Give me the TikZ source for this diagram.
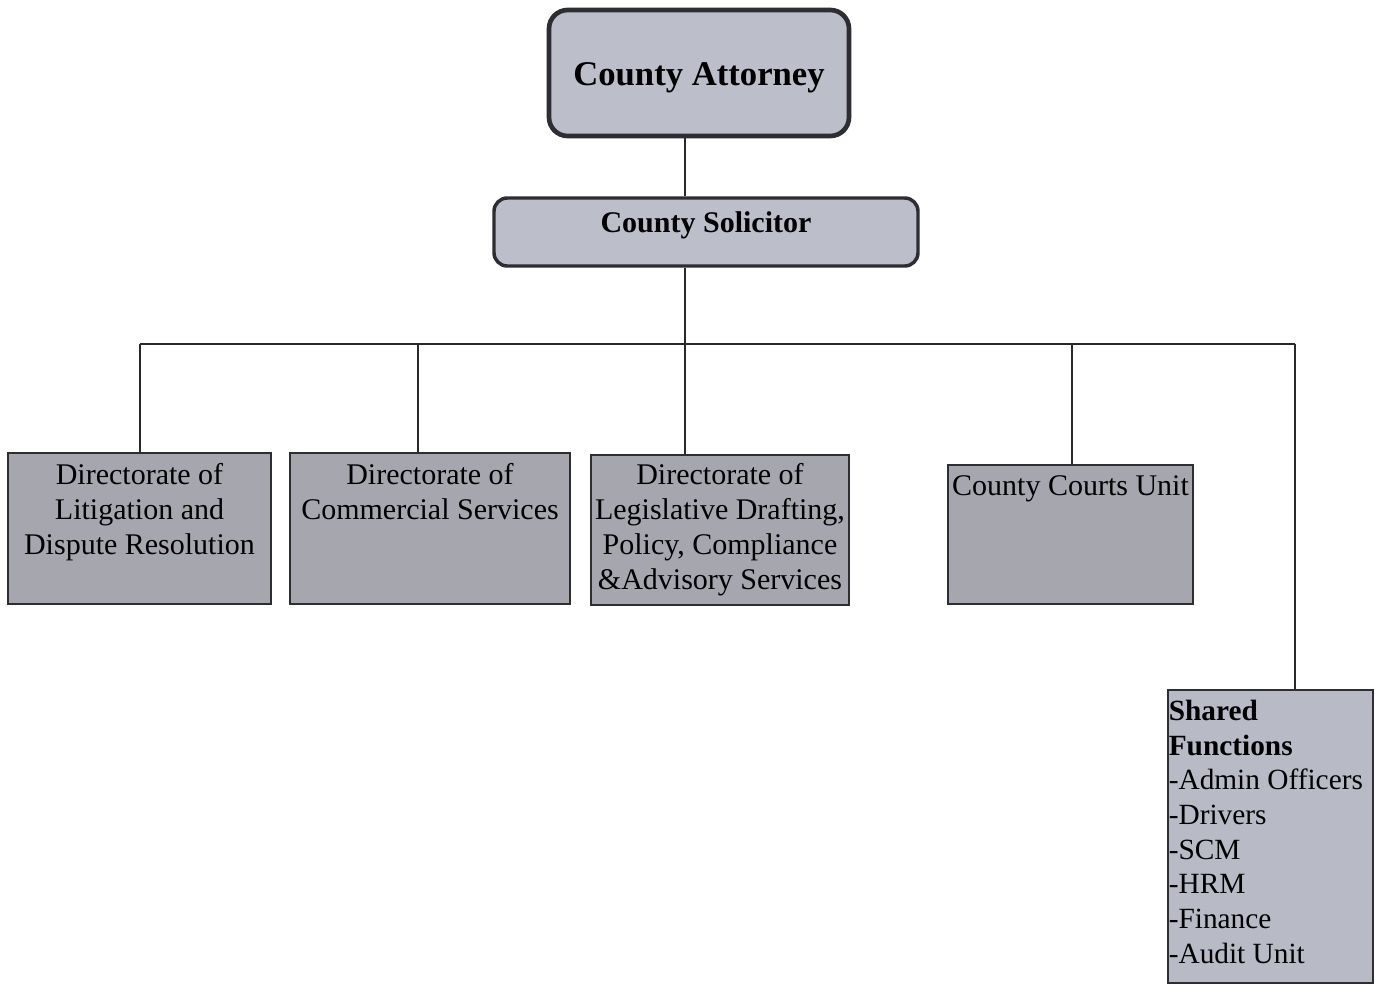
\documentclass[tikz,border=0pt]{standalone}
\usepackage{fontspec}
\setmainfont{Liberation Serif}
\definecolor{borderc}{RGB}{45,45,50}
\definecolor{topfill}{RGB}{188,190,202}
\definecolor{dirfill}{RGB}{166,167,174}
\definecolor{sffill}{RGB}{184,187,197}
\definecolor{linec}{RGB}{40,40,45}
\tikzset{
  conn/.style={draw=linec, line width=1.5pt},
  topbox/.style={draw=borderc, fill=topfill, rounded corners=14pt, line width=3.5pt, inner sep=0pt},
  dirbox/.style={draw=borderc, fill=dirfill, line width=2.2pt, inner sep=0pt},
  sfbox/.style={draw=borderc, fill=sffill, line width=2.2pt, inner sep=0pt},
  dirtext/.style={anchor=north, inner sep=0pt, align=center, font=\fontsize{22.5}{26.25}\selectfont},
}
\begin{document}
\begin{tikzpicture}[x=0.75pt, y=-0.75pt]
\useasboundingbox[fill=white] (0,0) rectangle (1375,985);

% top boxes
\node[topbox, minimum width=225pt, minimum height=94.5pt] (att) at (699,73) {};
\node[inner sep=0pt, font=\fontsize{26}{30}\selectfont\bfseries] (attT) at (699,78) {County Attorney};
\node[topbox, rounded corners=10pt, line width=2.6pt, minimum width=318pt, minimum height=51pt] (sol) at (706,232) {};
\node[inner sep=0pt, font=\fontsize{22.5}{26}\selectfont\bfseries] (solT) at (706,225) {County Solicitor};

% directorate boxes
\node[dirbox, minimum width=197.25pt, minimum height=113.25pt] (d1) at (139.5,528.5) {};
\node[dirbox, minimum width=210pt, minimum height=113.25pt] (d2) at (430,528.5) {};
\node[dirbox, minimum width=193.5pt, minimum height=112.5pt] (d3) at (720,530) {};
\node[dirbox, minimum width=183.75pt, minimum height=104.25pt] (d4) at (1070.5,534.5) {};
\node[sfbox, minimum width=153.75pt, minimum height=219.75pt] (sf) at (1270.5,836.5) {};

\node[dirtext] (d1T) at ([yshift=-8.5pt]d1.north) {Directorate of\\Litigation and\\Dispute Resolution};
\node[dirtext] (d2T) at ([yshift=-8.5pt]d2.north) {Directorate of\\Commercial Services};
\node[dirtext] (d3T) at ([yshift=-7.5pt]d3.north) {Directorate of\\Legislative Drafting,\\Policy, Compliance\\\&Advisory Services};
\node[dirtext] (d4T) at ([yshift=-8.5pt]d4.north) {County Courts Unit};
\node[anchor=north west, inner sep=0pt, align=left, font=\fontsize{22}{26}\selectfont] (sfT) at ([xshift=1.5pt,yshift=-8.5pt]sf.north west)
  {\textbf{Shared}\\\textbf{Functions}\\-Admin Officers\\-Drivers\\-SCM\\-HRM\\-Finance\\-Audit Unit};

% connectors
\coordinate (trunk) at (685,344);
\coordinate (busL) at (140,344);
\coordinate (busR) at (1295,344);
\coordinate (b2) at (418,344);
\coordinate (b4) at (1072,344);
\draw[conn] (trunk |- att.south) -- (trunk |- sol.north);
\draw[conn] (trunk |- sol.south) -- (trunk |- d3.north);
\draw[conn] (busL) -- (busR);
\draw[conn] (busL) -- (busL |- d1.north);
\draw[conn] (b2) -- (b2 |- d2.north);
\draw[conn] (b4) -- (b4 |- d4.north);
\draw[conn] (busR) -- (busR |- sf.north);
\end{tikzpicture}
\end{document}
